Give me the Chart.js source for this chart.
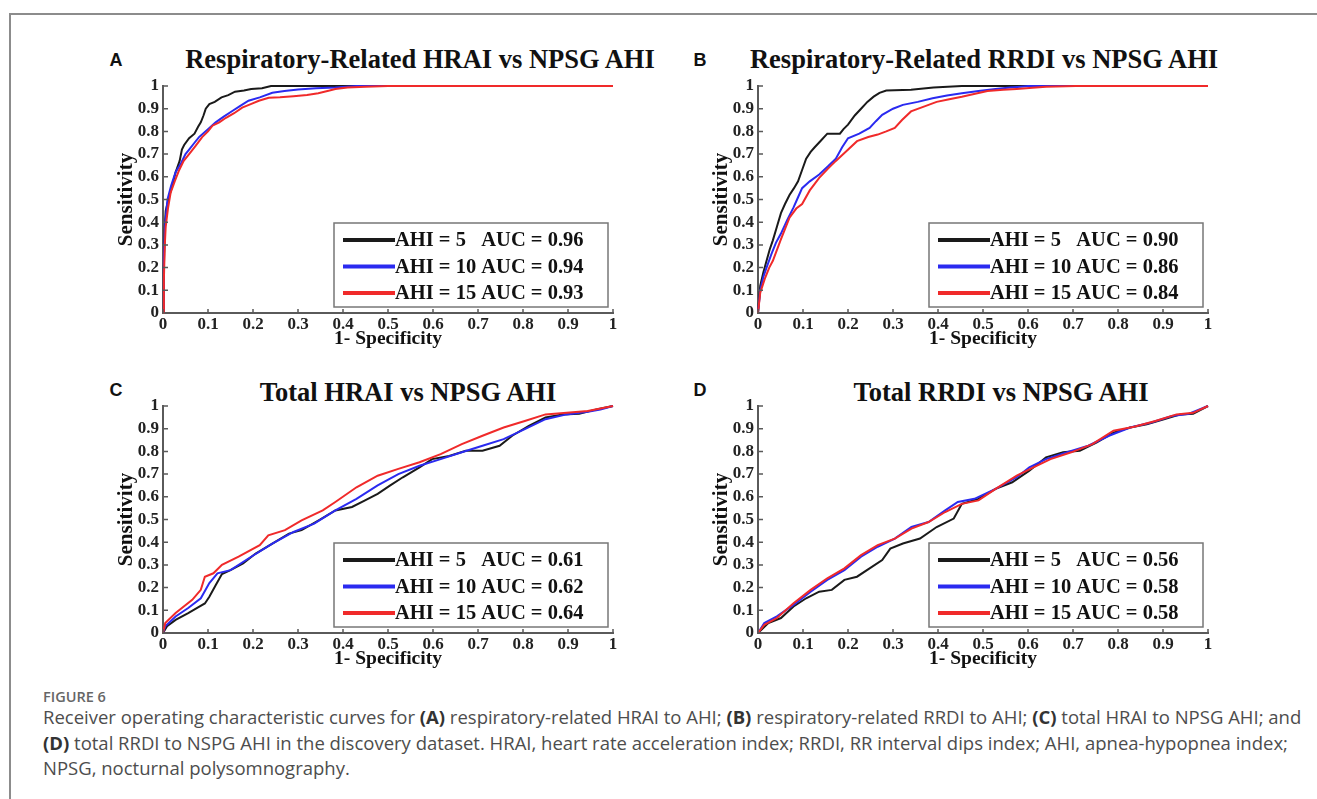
<!DOCTYPE html>
<html>
<head>
<meta charset="utf-8">
<script src="https://cdn.jsdelivr.net/npm/chart.js@4.4.1/dist/chart.umd.min.js"></script>
<style>
  html, body { margin: 0; padding: 0; background: #fff; overflow: hidden; }
  body { width: 1317px; height: 799px; position: relative; }
  .frame { position: absolute; left: 9px; top: 13px; width: 1400px; height: 900px; border: 2px solid #8c8c8c; box-sizing: border-box; }
  .panel { position: absolute; }
  .ptitle { position: absolute; font: bold 26.5px "Liberation Serif", "Times New Roman", serif; color: #111; white-space: nowrap; transform: translate(-50%, -50%); }
  .letter { position: absolute; font: bold 18px "Liberation Sans", Arial, sans-serif; color: #111; transform: translate(-50%, -50%); }
  .fig { position: absolute; left: 43px; top: 688px; font: 600 14.5px "Open Sans", "Noto Sans", sans-serif; color: #666; line-height: 18px; }
  .caption { position: absolute; left: 43px; top: 704px; margin: 0; font: 18.5px "Open Sans", "Noto Sans", sans-serif; color: #4d4d4d; line-height: 25.5px; white-space: nowrap; }
  .caption b { color: #333; }
</style>
</head>
<body>
<div class="frame"></div>

<div class="letter" style="left:116px;top:60px">A</div>
<div class="ptitle" style="left:420px;top:59px">Respiratory-Related HRAI vs NPSG AHI</div>
<div class="letter" style="left:700px;top:60px">B</div>
<div class="ptitle" style="left:984px;top:59px">Respiratory-Related RRDI vs NPSG AHI</div>
<div class="letter" style="left:116px;top:390px">C</div>
<div class="ptitle" style="left:408px;top:392px">Total HRAI vs NPSG AHI</div>
<div class="letter" style="left:700px;top:390px">D</div>
<div class="ptitle" style="left:1001px;top:392px">Total RRDI vs NPSG AHI</div>

<canvas id="roc-hrai-resp" class="panel" width="540" height="285" style="left:100px;top:66px;width:540px;height:285px"></canvas>
<canvas id="roc-rrdi-resp" class="panel" width="540" height="285" style="left:695px;top:66px;width:540px;height:285px"></canvas>
<canvas id="roc-hrai-total" class="panel" width="540" height="285" style="left:100px;top:386px;width:540px;height:285px"></canvas>
<canvas id="roc-rrdi-total" class="panel" width="540" height="285" style="left:695px;top:386px;width:540px;height:285px"></canvas>

<div class="fig">FIGURE 6</div>
<p class="caption">Receiver operating characteristic curves for <b>(A)</b> respiratory-related HRAI to AHI; <b>(B)</b> respiratory-related RRDI to AHI; <b>(C)</b> total HRAI to NPSG AHI; and<br><b>(D)</b> total RRDI to NSPG AHI in the discovery dataset. HRAI, heart rate acceleration index; RRDI, RR interval dips index; AHI, apnea-hypopnea index;<br>NPSG, nocturnal polysomnography.</p>

<script>
// AHI cut-offs and the AUC of each curve
var ahiCutoffs = [5, 10, 15];
var aucHraiResp = [0.96, 0.94, 0.93];
var aucRrdiResp = [0.90, 0.86, 0.84];
var aucHraiTotal = [0.61, 0.62, 0.64];
var aucRrdiTotal = [0.56, 0.58, 0.58];
var axisTicks = [0, 0.1, 0.2, 0.3, 0.4, 0.5, 0.6, 0.7, 0.8, 0.9, 1];
var seriesColors = ['#1a1a1a', '#2a2af0', '#f02a2a'];

// ROC points as [1 - specificity, sensitivity]
var hraiRespAhi5 = [[0,0],[0.002,0.2],[0.004,0.38],[0.006,0.45],[0.012,0.5],[0.019,0.55],[0.028,0.62],[0.037,0.67],[0.042,0.72],[0.047,0.74],[0.058,0.77],[0.07,0.79],[0.078,0.82],[0.084,0.84],[0.09,0.87],[0.095,0.9],[0.103,0.92],[0.115,0.93],[0.13,0.95],[0.145,0.96],[0.16,0.975],[0.18,0.98],[0.196,0.987],[0.22,0.99],[0.24,1],[1,1]];
var hraiRespAhi10 = [[0,0],[0.002,0.25],[0.005,0.4],[0.01,0.5],[0.018,0.56],[0.028,0.62],[0.04,0.66],[0.05,0.7],[0.058,0.72],[0.07,0.75],[0.08,0.775],[0.1,0.81],[0.117,0.84],[0.135,0.865],[0.154,0.89],[0.17,0.91],[0.19,0.935],[0.215,0.95],[0.243,0.97],[0.27,0.978],[0.3,0.985],[0.34,0.99],[0.383,0.993],[0.43,1],[1,1]];
var hraiRespAhi15 = [[0,0],[0.002,0.15],[0.004,0.3],[0.006,0.38],[0.011,0.46],[0.017,0.53],[0.026,0.58],[0.036,0.63],[0.046,0.67],[0.058,0.7],[0.072,0.735],[0.087,0.775],[0.1,0.8],[0.11,0.825],[0.125,0.84],[0.14,0.86],[0.158,0.88],[0.176,0.905],[0.195,0.92],[0.213,0.935],[0.235,0.948],[0.26,0.95],[0.29,0.955],[0.32,0.96],[0.345,0.968],[0.37,0.98],[0.383,0.987],[0.41,0.993],[0.45,0.997],[0.5,1],[1,1]];

var rrdiRespAhi5 = [[0,0],[0.005,0.12],[0.012,0.18],[0.019,0.23],[0.026,0.28],[0.033,0.32],[0.042,0.38],[0.051,0.44],[0.06,0.48],[0.07,0.52],[0.08,0.55],[0.089,0.58],[0.098,0.63],[0.107,0.68],[0.117,0.71],[0.126,0.73],[0.14,0.76],[0.154,0.79],[0.17,0.79],[0.182,0.79],[0.19,0.81],[0.2,0.83],[0.215,0.87],[0.229,0.9],[0.243,0.93],[0.257,0.953],[0.27,0.97],[0.285,0.98],[0.34,0.983],[0.39,0.993],[0.453,1],[1,1]];
var rrdiRespAhi10 = [[0,0],[0.005,0.1],[0.012,0.16],[0.019,0.2],[0.03,0.26],[0.04,0.31],[0.051,0.35],[0.065,0.41],[0.079,0.465],[0.089,0.51],[0.098,0.55],[0.115,0.58],[0.136,0.61],[0.155,0.645],[0.173,0.68],[0.187,0.73],[0.2,0.77],[0.225,0.79],[0.248,0.815],[0.262,0.845],[0.276,0.873],[0.3,0.9],[0.322,0.917],[0.355,0.93],[0.388,0.946],[0.42,0.958],[0.453,0.968],[0.49,0.978],[0.528,0.987],[0.56,0.993],[0.584,0.997],[0.6,1],[1,1]];
var rrdiRespAhi15 = [[0,0],[0.005,0.09],[0.015,0.15],[0.025,0.2],[0.033,0.23],[0.05,0.32],[0.07,0.42],[0.085,0.46],[0.098,0.48],[0.115,0.54],[0.136,0.595],[0.155,0.635],[0.173,0.67],[0.195,0.71],[0.22,0.757],[0.245,0.775],[0.266,0.786],[0.285,0.8],[0.304,0.815],[0.32,0.85],[0.34,0.888],[0.37,0.91],[0.397,0.93],[0.425,0.942],[0.453,0.953],[0.48,0.965],[0.51,0.978],[0.545,0.983],[0.575,0.987],[0.61,0.992],[0.64,0.997],[0.706,1],[1,1]];

var hraiTotalAhi5 = [[0,0],[0.009,0.03],[0.028,0.058],[0.056,0.088],[0.075,0.11],[0.093,0.13],[0.103,0.16],[0.117,0.21],[0.131,0.26],[0.15,0.277],[0.178,0.307],[0.206,0.35],[0.243,0.394],[0.28,0.438],[0.308,0.453],[0.346,0.496],[0.383,0.54],[0.42,0.555],[0.449,0.584],[0.477,0.613],[0.505,0.65],[0.533,0.686],[0.57,0.73],[0.598,0.766],[0.636,0.78],[0.673,0.803],[0.71,0.803],[0.748,0.825],[0.776,0.869],[0.813,0.912],[0.85,0.949],[0.888,0.963],[0.925,0.966],[0.963,0.985],[1,1]];
var hraiTotalAhi10 = [[0,0],[0.005,0.03],[0.028,0.073],[0.056,0.11],[0.084,0.153],[0.103,0.22],[0.121,0.263],[0.15,0.277],[0.196,0.336],[0.243,0.394],[0.29,0.445],[0.336,0.482],[0.383,0.54],[0.43,0.591],[0.477,0.65],[0.523,0.7],[0.57,0.737],[0.617,0.766],[0.664,0.796],[0.71,0.825],[0.757,0.854],[0.804,0.898],[0.85,0.942],[0.897,0.963],[0.944,0.975],[0.972,0.985],[1,1]];
var hraiTotalAhi15 = [[0,0],[0.005,0.044],[0.028,0.088],[0.065,0.146],[0.084,0.19],[0.093,0.248],[0.112,0.263],[0.131,0.3],[0.168,0.336],[0.215,0.387],[0.234,0.43],[0.271,0.453],[0.308,0.496],[0.355,0.54],[0.383,0.577],[0.43,0.642],[0.477,0.693],[0.523,0.723],[0.57,0.752],[0.617,0.788],[0.664,0.832],[0.71,0.869],[0.757,0.905],[0.804,0.934],[0.85,0.963],[0.897,0.97],[0.944,0.978],[1,1]];

var rrdiTotalAhi5 = [[0,0],[0.023,0.044],[0.051,0.066],[0.079,0.117],[0.107,0.153],[0.136,0.182],[0.164,0.19],[0.192,0.234],[0.22,0.248],[0.248,0.285],[0.276,0.321],[0.294,0.372],[0.322,0.394],[0.36,0.416],[0.397,0.467],[0.435,0.504],[0.453,0.569],[0.49,0.591],[0.528,0.635],[0.565,0.664],[0.603,0.715],[0.64,0.774],[0.678,0.796],[0.715,0.803],[0.752,0.839],[0.79,0.883],[0.827,0.905],[0.864,0.92],[0.902,0.942],[0.939,0.963],[0.967,0.966],[1,1]];
var rrdiTotalAhi10 = [[0,0],[0.014,0.044],[0.042,0.073],[0.079,0.124],[0.117,0.182],[0.154,0.234],[0.192,0.277],[0.229,0.336],[0.266,0.38],[0.304,0.416],[0.341,0.467],[0.379,0.489],[0.416,0.54],[0.444,0.577],[0.481,0.591],[0.528,0.635],[0.575,0.686],[0.603,0.73],[0.64,0.766],[0.687,0.796],[0.734,0.825],[0.78,0.869],[0.827,0.905],[0.874,0.927],[0.92,0.956],[0.958,0.966],[1,1]];
var rrdiTotalAhi15 = [[0,0],[0.014,0.036],[0.042,0.066],[0.079,0.131],[0.117,0.19],[0.154,0.241],[0.192,0.285],[0.229,0.343],[0.266,0.387],[0.304,0.416],[0.341,0.46],[0.379,0.489],[0.416,0.533],[0.453,0.569],[0.49,0.584],[0.528,0.635],[0.575,0.693],[0.612,0.73],[0.65,0.766],[0.696,0.796],[0.743,0.832],[0.79,0.891],[0.836,0.909],[0.883,0.934],[0.93,0.963],[0.967,0.97],[1,1]];

var serif = '"Liberation Serif", "Times New Roman", serif';
var axisGray = '#5a5a5a';

// small inward tick marks on both axes
var inwardTicks = {
  id: 'inwardTicks',
  afterDraw: function(chart) {
    var ctx = chart.ctx, area = chart.chartArea;
    var xs = chart.scales.x, ys = chart.scales.y;
    ctx.save();
    ctx.strokeStyle = axisGray;
    ctx.lineWidth = 1.5;
    ctx.beginPath();
    xs.ticks.forEach(function(t) {
      var px = xs.getPixelForValue(t.value);
      ctx.moveTo(px, area.bottom);
      ctx.lineTo(px, area.bottom - 4);
    });
    ys.ticks.forEach(function(t) {
      var py = ys.getPixelForValue(t.value);
      ctx.moveTo(area.left, py);
      ctx.lineTo(area.left + 5, py);
    });
    ctx.stroke();
    ctx.restore();
  }
};

// boxed legend in the lower right corner of the plot
var boxLegend = {
  id: 'boxLegend',
  afterDraw: function(chart) {
    var ctx = chart.ctx, area = chart.chartArea;
    var sets = chart.data.datasets;
    var right = area.right - 5, left = right - 274;
    var bottom = area.bottom - 6, top = bottom - 84;
    ctx.save();
    ctx.fillStyle = '#fff';
    ctx.fillRect(left, top, right - left, bottom - top);
    ctx.strokeStyle = '#777';
    ctx.lineWidth = 1.5;
    ctx.strokeRect(left, top, right - left, bottom - top);
    ctx.font = 'bold 20.5px ' + serif;
    ctx.textBaseline = 'middle';
    ctx.textAlign = 'left';
    sets.forEach(function(ds, i) {
      var yy = top + 17 + i * 26.5;
      ctx.strokeStyle = ds.borderColor;
      ctx.lineWidth = 4;
      ctx.beginPath();
      ctx.moveTo(left + 9, yy);
      ctx.lineTo(left + 61, yy);
      ctx.stroke();
      ctx.fillStyle = '#111';
      ctx.fillText(ds.label, left + 61, yy + 1);
    });
    ctx.restore();
  }
};

function legendLabel(cut, auc) {
  return 'AHI = ' + cut + (cut < 10 ? '   ' : ' ') + 'AUC = ' + auc.toFixed(2);
}

function makePanel(canvasId, curves, aucs, xTitleHeight) {
  var datasets = curves.map(function(pts, i) {
    return {
      label: legendLabel(ahiCutoffs[i], aucs[i]),
      data: pts,
      borderColor: seriesColors[i],
      borderWidth: 2,
      pointRadius: 0,
      tension: 0,
      fill: false,
      clip: 4,
      order: 3 - i
    };
  });
  var tickFont = {family: serif, size: 17, weight: 'bold'};
  return new Chart(document.getElementById(canvasId), {
    type: 'line',
    data: {datasets: datasets},
    options: {
      responsive: false,
      animation: false,
      events: [],
      layout: {padding: {top: 20, right: 27, bottom: 0, left: 0}},
      plugins: {legend: {display: false}, tooltip: {enabled: false}},
      scales: {
        x: {
          type: 'linear', min: 0, max: 1,
          afterBuildTicks: function(s) { s.ticks = axisTicks.map(function(v) { return {value: v}; }); },
          afterFit: function(s) { s.height = xTitleHeight; },
          grid: {display: false, drawTicks: false},
          border: {display: true, color: axisGray, width: 2},
          ticks: {font: tickFont, color: '#222', padding: 1, maxRotation: 0, autoSkip: false,
                  callback: function(v) { return String(+v.toFixed(1)); }},
          title: {display: true, text: '1- Specificity', color: '#111', padding: {top: 0, bottom: 0},
                  font: {family: serif, size: 19.5, weight: 'bold'}}
        },
        y: {
          type: 'linear', min: 0, max: 1,
          afterBuildTicks: function(s) { s.ticks = axisTicks.map(function(v) { return {value: v}; }); },
          afterFit: function(s) { s.width = 63; },
          grid: {display: false, drawTicks: false},
          border: {display: true, color: axisGray, width: 2},
          ticks: {font: tickFont, color: '#222', padding: 4, autoSkip: false,
                  callback: function(v) { return String(+v.toFixed(1)); }},
          title: {display: true, text: 'Sensitivity', color: '#111', padding: {top: 14, bottom: 0},
                  font: {family: serif, size: 21, weight: 'bold'}}
        }
      }
    },
    plugins: [inwardTicks, boxLegend]
  });
}

makePanel('roc-hrai-resp', [hraiRespAhi5, hraiRespAhi10, hraiRespAhi15], aucHraiResp, 38);
makePanel('roc-rrdi-resp', [rrdiRespAhi5, rrdiRespAhi10, rrdiRespAhi15], aucRrdiResp, 38);
makePanel('roc-hrai-total', [hraiTotalAhi5, hraiTotalAhi10, hraiTotalAhi15], aucHraiTotal, 38);
makePanel('roc-rrdi-total', [rrdiTotalAhi5, rrdiTotalAhi10, rrdiTotalAhi15], aucRrdiTotal, 38);
</script>
</body>
</html>
